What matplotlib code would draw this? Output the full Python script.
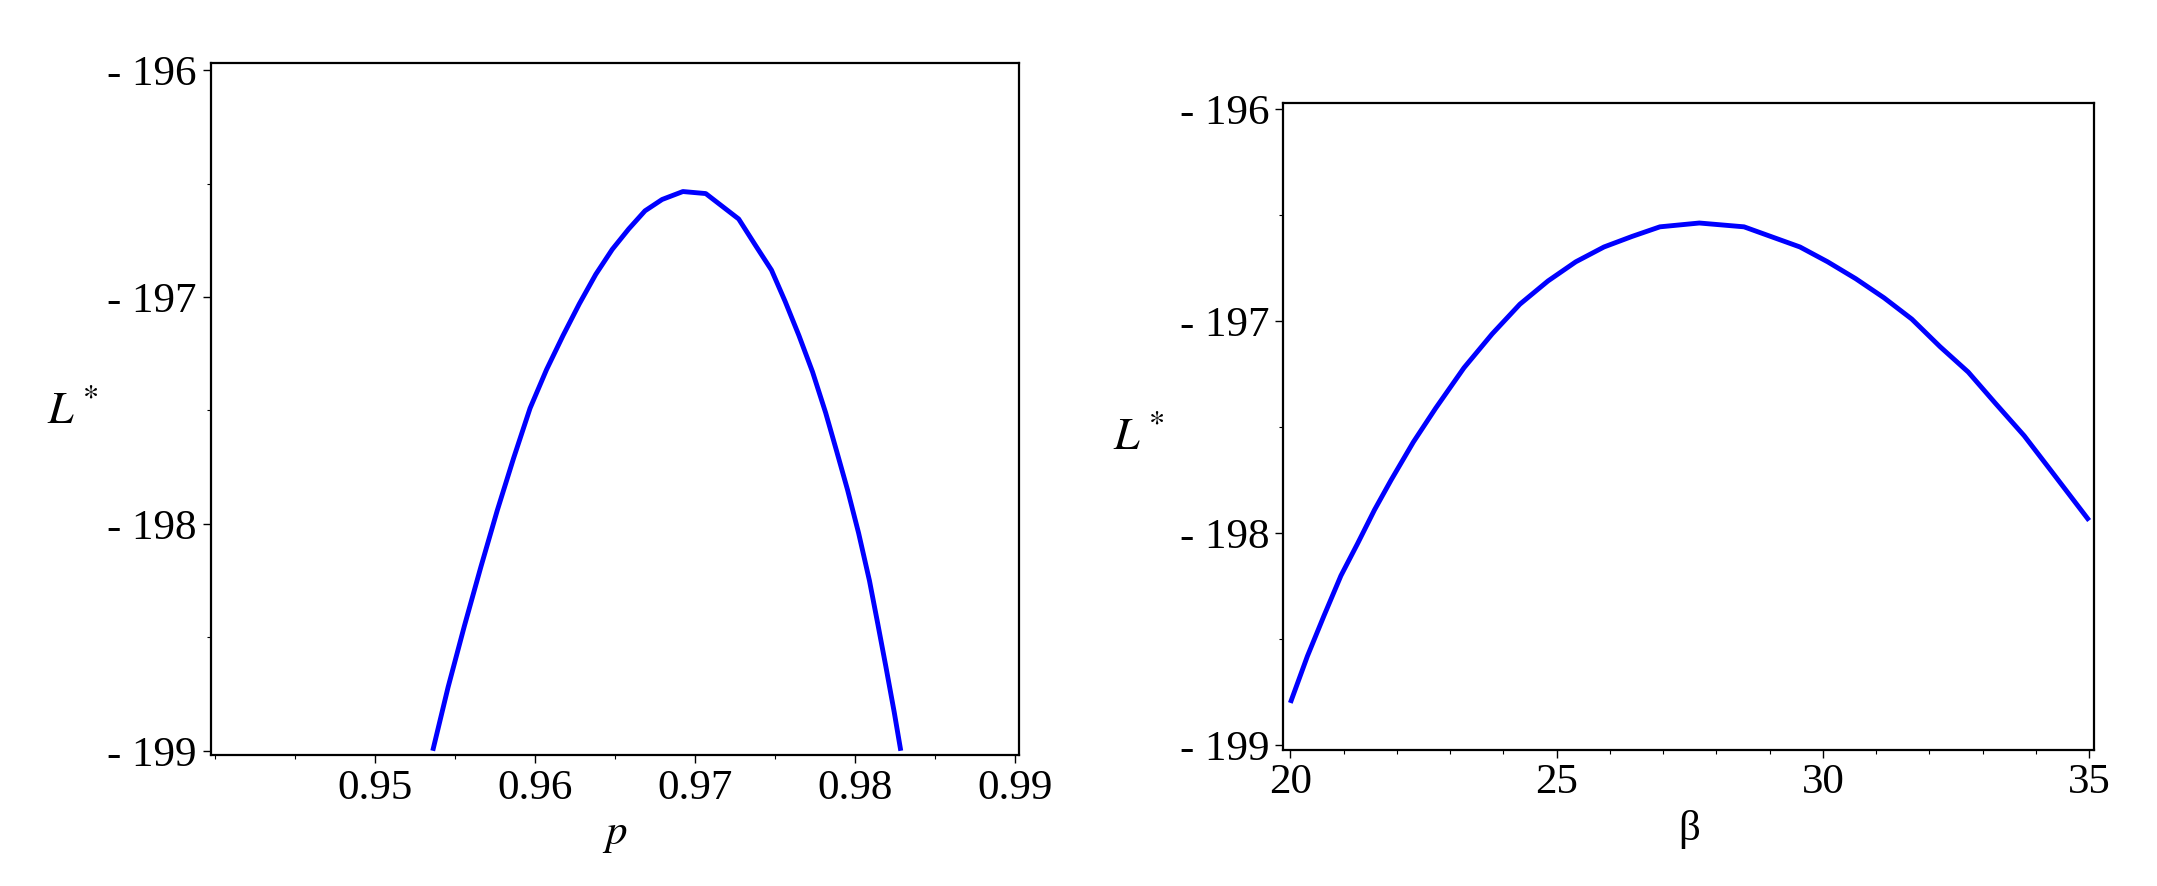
import matplotlib
matplotlib.use("Agg")
import matplotlib.pyplot as plt
from matplotlib.ticker import FixedLocator, MultipleLocator

plt.rcParams['font.family'] = ['Liberation Serif', 'DejaVu Serif']
plt.rcParams['mathtext.fontset'] = 'stix'

# Left panel data: L* versus p
p_vals = [0.95360, 0.95456, 0.95558, 0.95661, 0.95764, 0.95866, 0.95969, 0.96072,
          0.96175, 0.96277, 0.96380, 0.96483, 0.96586, 0.96688, 0.96795, 0.96925,
          0.97068, 0.97274, 0.97377, 0.97479, 0.97565, 0.97651, 0.97736, 0.97818,
          0.97887, 0.97955, 0.98024, 0.98092, 0.98144, 0.98195, 0.98247, 0.98288]
L_p = [-199.0, -198.72, -198.45, -198.19, -197.94, -197.71, -197.49, -197.32,
       -197.17, -197.03, -196.90, -196.79, -196.70, -196.62, -196.57, -196.535,
       -196.544, -196.656, -196.77, -196.881, -197.02, -197.17, -197.33, -197.51,
       -197.68, -197.85, -198.04, -198.25, -198.44, -198.63, -198.83, -199.0]

# Right panel data: L* versus beta
beta_vals = [20.0, 20.32, 20.63, 20.95, 21.26, 21.58, 21.89, 22.31, 22.73, 23.26,
             23.79, 24.31, 24.84, 25.36, 25.89, 26.42, 26.94, 27.68, 28.52, 29.57,
             30.09, 30.62, 31.15, 31.67, 32.20, 32.73, 33.25, 33.78, 34.30, 35.0]
L_beta = [-198.80, -198.58, -198.39, -198.20, -198.05, -197.89, -197.75, -197.57,
          -197.41, -197.22, -197.06, -196.92, -196.81, -196.72, -196.65, -196.60,
          -196.555, -196.537, -196.555, -196.65, -196.72, -196.80, -196.89, -196.99,
          -197.12, -197.24, -197.39, -197.54, -197.71, -197.94]

y_ticks = [-196, -197, -198, -199]
y_ticklabels = ['- 196', '- 197', '- 198', '- 199']
p_ticks = [0.95, 0.96, 0.97, 0.98, 0.99]
p_ticklabels = ['0.95', '0.96', '0.97', '0.98', '0.99']
beta_ticks = [20, 25, 30, 35]
beta_ticklabels = ['20', '25', '30', '35']

fig = plt.figure(figsize=(21.57, 8.86), dpi=100)
ax1 = fig.add_axes([0.0976, 0.1475, 0.375, 0.781])
ax2 = fig.add_axes([0.595, 0.154, 0.376, 0.730])

blue = '#0000ff'
fs = 31

def style(ax):
    for s in ax.spines.values():
        s.set_linewidth(1.6)
        s.set_color('black')
    ax.tick_params(which='major', direction='out', length=6, width=1, labelsize=fs, pad=4)
    ax.tick_params(which='minor', direction='out', length=3, width=0.8)
    ax.set_yticks(y_ticks)
    ax.set_yticklabels(y_ticklabels)
    ax.yaxis.set_minor_locator(MultipleLocator(0.5))

ax1.plot(p_vals, L_p, color=blue, lw=3.5, solid_capstyle='butt', solid_joinstyle='round')
ax1.set_xlim(0.9397, 0.9903)
ax1.set_ylim(-199.02, -195.97)
style(ax1)
ax1.set_xticks(p_ticks)
ax1.set_xticklabels(p_ticklabels)
ax1.xaxis.set_minor_locator(FixedLocator([0.94, 0.945, 0.955, 0.965, 0.975, 0.985]))
ax1.set_xlabel('$p$', fontsize=fs, labelpad=6)
fig.text(0.022, 0.535, '$L^*$', fontsize=fs + 2, ha='left', va='center')

ax2.plot(beta_vals, L_beta, color=blue, lw=3.5, solid_capstyle='butt', solid_joinstyle='round')
ax2.set_xlim(19.87, 35.1)
ax2.set_ylim(-199.02, -195.97)
style(ax2)
ax2.set_xticks(beta_ticks)
ax2.set_xticklabels(beta_ticklabels)
ax2.xaxis.set_minor_locator(MultipleLocator(1))
ax2.set_xlabel('β', fontsize=fs, labelpad=6)
fig.text(0.516, 0.505, '$L^*$', fontsize=fs + 2, ha='left', va='center')

fig.savefig('out.png', dpi=100)
